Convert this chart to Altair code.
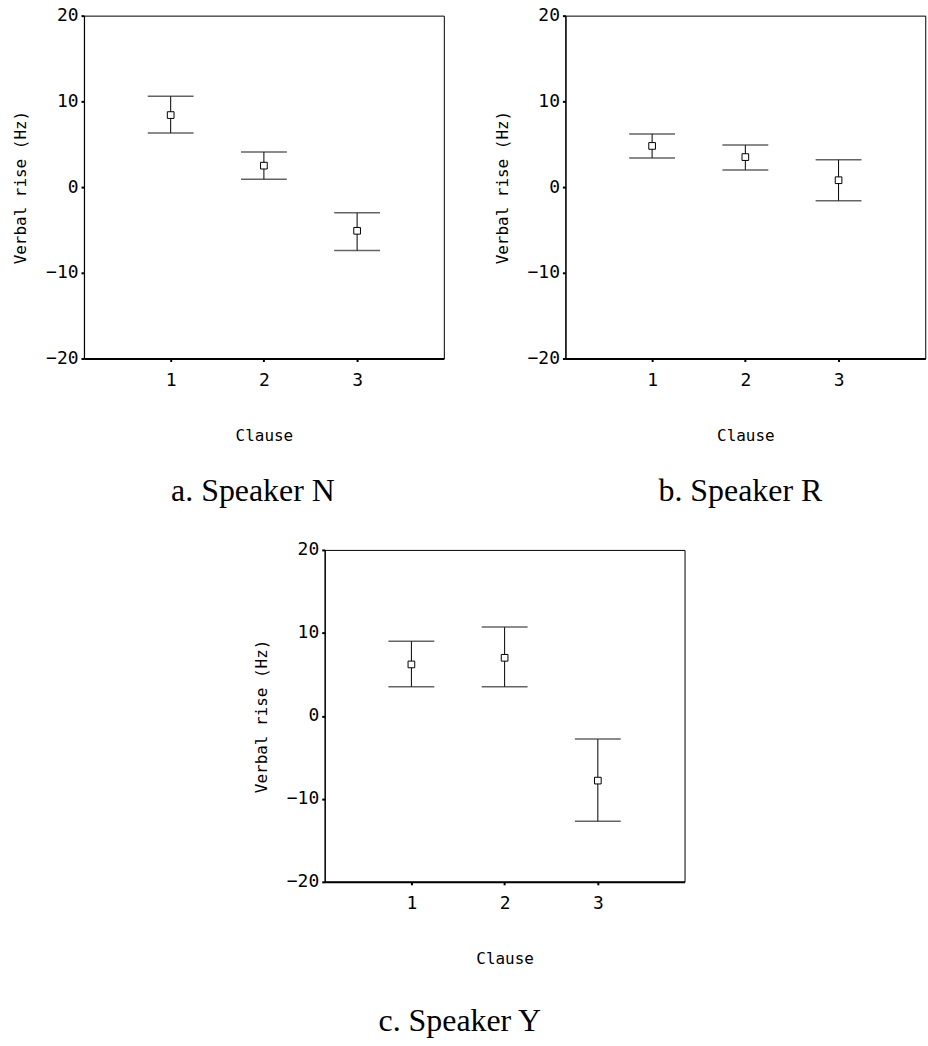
import altair as alt
import pandas as pd

# ---- data ----
clause = [1, 2, 3]
n_mean = [8.4, 2.5, -5.1]
n_upper = [10.6, 4.1, -3.0]
n_lower = [6.3, 0.9, -7.4]
r_mean = [4.8, 3.5, 0.8]
r_upper = [6.2, 4.9, 3.2]
r_lower = [3.4, 2.0, -1.6]
y_mean = [6.2, 7.0, -7.8]
y_upper = [9.0, 10.7, -2.8]
y_lower = [3.5, 3.5, -12.7]
y_ticks = [-20, -10, 0, 10, 20]
captions = ["a. Speaker N", "b. Speaker R", "c. Speaker Y"]
x_title = "Clause"
y_title = "Verbal rise (Hz)"

SANS = "DejaVu Sans Mono"
SERIF = "Liberation Serif"


def panel(mean, upper, lower, caption, w, h, dx, offset):
    df = pd.DataFrame({"clause": clause, "mean": mean, "upper": upper, "lower": lower})
    xscale = alt.Scale(domain=[0.07, 3.93], nice=False, zero=False)
    yscale = alt.Scale(domain=[-20, 20], nice=False, zero=False)
    xaxis = alt.Axis(values=clause, title=x_title, format="d", domainWidth=2,
                     labelPadding=10, titlePadding=38)
    yaxis = alt.Axis(values=y_ticks, title=y_title, format="d", domainWidth=1.2,
                     labelPadding=3, titlePadding=17)
    base = alt.Chart(df)
    rule = base.mark_rule(color="black", strokeWidth=1).encode(
        x=alt.X("clause:Q", scale=xscale, axis=xaxis),
        y=alt.Y("lower:Q", scale=yscale, axis=yaxis),
        y2="upper:Q",
    )
    cap_hi = base.mark_tick(orient="horizontal", size=46, thickness=1.5, color="#222").encode(
        x="clause:Q", y="upper:Q")
    cap_lo = base.mark_tick(orient="horizontal", size=46, thickness=1.5, color="#222").encode(
        x="clause:Q", y="lower:Q")
    pts = base.mark_square(size=45, fill="white", stroke="black", strokeWidth=1,
                           opacity=1).encode(x="clause:Q", y="mean:Q")
    return alt.layer(rule, cap_hi, cap_lo, pts).properties(
        width=w, height=h,
        title=alt.TitleParams(text=caption, orient="bottom", anchor="middle", frame="group",
                              dx=dx, offset=offset),
    )


a = panel(n_mean, n_upper, n_lower, captions[0], 361, 344, -11, 33)
b = panel(r_mean, r_upper, r_lower, captions[1], 361, 344, -5, 33)
c = panel(y_mean, y_upper, y_lower, captions[2], 361, 333, -45, 40)

top = alt.hconcat(a, b, spacing=48)
chart = alt.vconcat(top, c, spacing=32, center=True).configure_view(
    stroke="black", strokeWidth=1
).configure_axis(
    grid=False, domainColor="black", tickColor="black", tickSize=3, tickWidth=2,
    labelColor="black", titleColor="black", labelFont=SANS, titleFont=SANS,
    labelFontSize=18, titleFontSize=16, titleFontWeight="normal",
).configure_title(
    font=SERIF, fontSize=32, fontWeight="normal", color="black"
).properties(
    padding={"left": 12, "top": 4, "right": 2, "bottom": 5}, background="white"
)

chart.save("out.html", embed_options={"renderer": "svg", "actions": False})
